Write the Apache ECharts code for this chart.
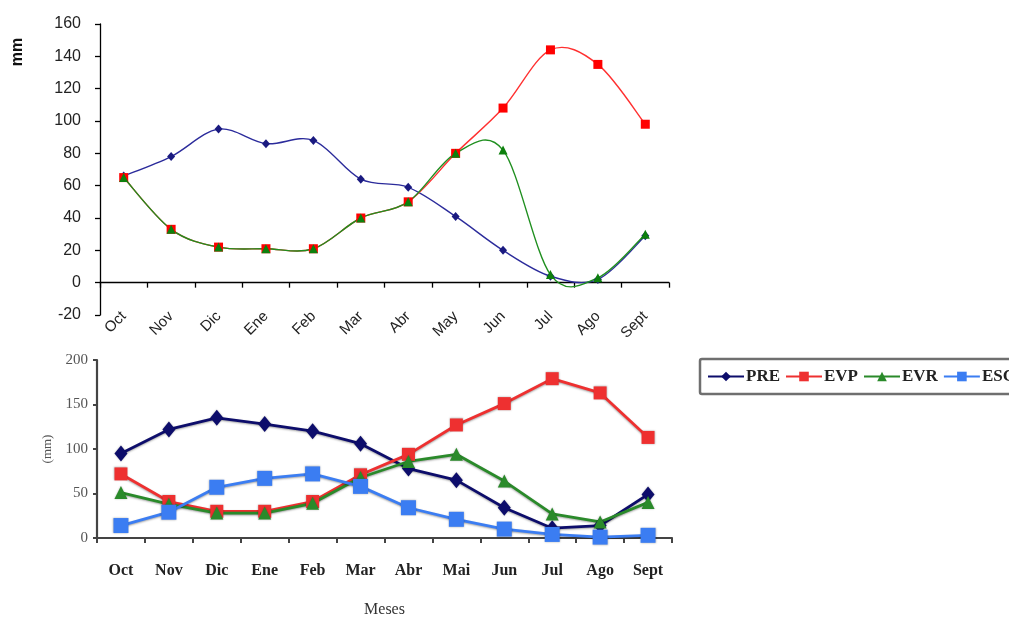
<!DOCTYPE html>
<html>
<head>
<meta charset="utf-8">
<script src="https://cdn.jsdelivr.net/npm/echarts@6/dist/echarts.min.js"></script>
<style>
  html, body { margin: 0; padding: 0; background: #ffffff; }
  #chart { width: 1009px; height: 619px; }
</style>
</head>
<body>
<div id="chart"></div>
<script>
// Upper panel: monthly water balance (mm), smoothed curves
const monthsTop = ['Oct', 'Nov', 'Dic', 'Ene', 'Feb', 'Mar', 'Abr', 'May', 'Jun', 'Jul', 'Ago', 'Sept'];
const preTop = [66, 78, 95, 86, 88, 64, 59, 41, 20, 4, 2, 29];
const evpTop = [65, 33, 22, 21, 21, 40, 50, 80, 108, 144, 135, 98];
const evrTop = [65, 33, 22, 21, 21, 40, 50, 80, 82, 5, 3, 30];
const yTicksTop = [-20, 0, 20, 40, 60, 80, 100, 120, 140, 160];

// Lower panel: monthly water balance with runoff
const monthsBottom = ['Oct', 'Nov', 'Dic', 'Ene', 'Feb', 'Mar', 'Abr', 'Mai', 'Jun', 'Jul', 'Ago', 'Sept'];
const preBottom = [95, 122, 135, 128, 120, 106, 78, 65, 34, 11, 14, 49];
const evpBottom = [72, 41, 30, 30, 41, 71, 94, 127, 151, 179, 163, 113];
const evrBottom = [51, 38, 28, 28, 39, 68, 86, 94, 64, 27, 18, 40];
const escBottom = [14, 29, 57, 67, 72, 58, 34, 21, 10, 4, 1, 3];
const yTicksBottom = [0, 50, 100, 150, 200];

const sans = 'Liberation Sans, Arial, sans-serif';
const serif = 'Liberation Serif, DejaVu Serif, serif';

const chart = echarts.init(document.getElementById('chart'), null, { renderer: 'canvas' });

// Smooth curve through the points (cardinal spline, one cubic segment per month pair),
// positioned with the grid's own scales via api.coord.
function smoothCurve(values, color) {
  return {
    type: 'custom', xAxisIndex: 0, yAxisIndex: 0, silent: true,
    data: values.map(function (v, i) { return [i, v]; }),
    renderItem: function (params, api) {
      const i = params.dataIndex;
      const n = values.length;
      if (i >= n - 1) return null;
      const pt = function (k) {
        const j = Math.max(0, Math.min(n - 1, k));
        return api.coord([j, values[j]]);
      };
      const p0 = pt(i - 1), p1 = pt(i), p2 = pt(i + 1), p3 = pt(i + 2);
      return {
        type: 'bezierCurve',
        shape: {
          x1: p1[0], y1: p1[1], x2: p2[0], y2: p2[1],
          cpx1: p1[0] + (p2[0] - p0[0]) / 6, cpy1: p1[1] + (p2[1] - p0[1]) / 6,
          cpx2: p2[0] - (p3[0] - p1[0]) / 6, cpy2: p2[1] - (p3[1] - p1[1]) / 6
        },
        style: { stroke: color, lineWidth: 1.4, fill: null }
      };
    }
  };
}

function topMarkers(name, values, color, symbol, size) {
  return {
    name: name, type: 'scatter', xAxisIndex: 0, yAxisIndex: 0,
    data: values, symbol: symbol, symbolSize: size,
    itemStyle: { color: color, opacity: 1 },
    emphasis: { disabled: true }
  };
}

function bottomLine(name, data, color, symbol, size) {
  return {
    name: name, type: 'line', xAxisIndex: 2, yAxisIndex: 1,
    data: data, symbol: symbol, symbolSize: size,
    lineStyle: { color: color, width: 2.8, shadowColor: 'rgba(0,0,0,0.35)', shadowBlur: 2, shadowOffsetY: 1 },
    itemStyle: { color: color, borderWidth: 0, shadowColor: 'rgba(0,0,0,0.3)', shadowBlur: 2 },
    emphasis: { disabled: true }
  };
}

const option = {
  animation: false,
  backgroundColor: '#ffffff',
  grid: [
    { left: 100, right: 340, top: 24, bottom: 304 },
    { left: 97, right: 337, top: 360, bottom: 76 }
  ],
  legend: {
    data: ['PRE', 'EVP', 'EVR', 'ESC'],
    left: 700, top: 359, width: 420,
    orient: 'horizontal',
    itemWidth: 36, itemHeight: 12, itemGap: 5,
    padding: [9, 40, 9, 7],
    borderColor: '#6f6f6f', borderWidth: 2.5, borderRadius: 2,
    textStyle: { fontFamily: serif, fontWeight: 'bold', fontSize: 17, color: '#222', padding: [0, 0, 0, -3] },
    selectedMode: false
  },
  xAxis: [
    {
      // axis line across y = 0 with ticks between months
      type: 'category', gridIndex: 0, data: monthsTop, boundaryGap: true,
      axisLine: { onZero: true, lineStyle: { color: '#000', width: 1.3 } },
      axisTick: { show: true, length: 5, inside: false, lineStyle: { color: '#000', width: 1.3 } },
      axisLabel: { show: false },
      splitLine: { show: false }
    },
    {
      // month labels along the bottom of the upper panel
      type: 'category', gridIndex: 0, data: monthsTop, position: 'bottom', boundaryGap: true,
      axisLine: { show: false, onZero: false },
      axisTick: { show: false },
      axisLabel: { rotate: 45, margin: -1, fontFamily: sans, fontSize: 15, color: '#222' },
      splitLine: { show: false }
    },
    {
      type: 'category', gridIndex: 1, data: monthsBottom, boundaryGap: true,
      name: 'Meses', nameLocation: 'middle', nameGap: 64,
      nameTextStyle: { fontFamily: serif, fontSize: 16, color: '#333' },
      axisLine: { lineStyle: { color: '#444', width: 2.2 } },
      axisTick: { show: true, length: 5, lineStyle: { color: '#444', width: 2 } },
      axisLabel: { margin: 25, fontFamily: serif, fontWeight: 'bold', fontSize: 16, color: '#222' },
      splitLine: { show: false }
    }
  ],
  yAxis: [
    {
      type: 'value', gridIndex: 0,
      min: yTicksTop[0], max: yTicksTop[yTicksTop.length - 1], interval: 20,
      axisLine: { show: true, lineStyle: { color: '#000', width: 1.3 } },
      axisTick: { show: true, length: 5, lineStyle: { color: '#000', width: 1.3 } },
      axisLabel: { margin: 19, fontFamily: sans, fontSize: 16, color: '#222' },
      splitLine: { show: false }
    },
    {
      type: 'value', gridIndex: 1,
      min: yTicksBottom[0], max: yTicksBottom[yTicksBottom.length - 1], interval: 50,
      name: '(mm)', nameLocation: 'middle', nameGap: 43, nameRotate: 90,
      nameTextStyle: { fontFamily: serif, fontSize: 13, color: '#555' },
      axisLine: { show: true, lineStyle: { color: '#444', width: 2.2 } },
      axisTick: { show: true, length: 4, lineStyle: { color: '#444', width: 2 } },
      axisLabel: { margin: 9, fontFamily: serif, fontSize: 15, color: '#555' },
      splitLine: { show: false }
    }
  ],
  graphic: [
    {
      type: 'text', x: 18, y: 52, rotation: Math.PI / 2,
      style: { text: 'mm', font: 'bold 16px ' + sans, fill: '#111', textAlign: 'center', textVerticalAlign: 'middle' }
    }
  ],
  series: [
    smoothCurve(preTop, '#2b2b9b'),
    topMarkers('PRE (superior)', preTop, '#1a1a80', 'diamond', [8, 9]),
    smoothCurve(evpTop, '#ff3030'),
    topMarkers('EVP (superior)', evpTop, '#ff0000', 'rect', 9),
    smoothCurve(evrTop, '#1f8f1f'),
    topMarkers('EVR (superior)', evrTop, '#0d800d', 'triangle', 9),
    bottomLine('PRE', preBottom, '#0d0d6b', 'diamond', [13, 16]),
    bottomLine('EVP', evpBottom, '#ee3030', 'rect', 13),
    bottomLine('EVR', evrBottom, '#2a8a2a', 'triangle', 13),
    bottomLine('ESC', escBottom, '#3b7df2', 'rect', 15)
  ]
};

chart.setOption(option);
</script>
</body>
</html>
